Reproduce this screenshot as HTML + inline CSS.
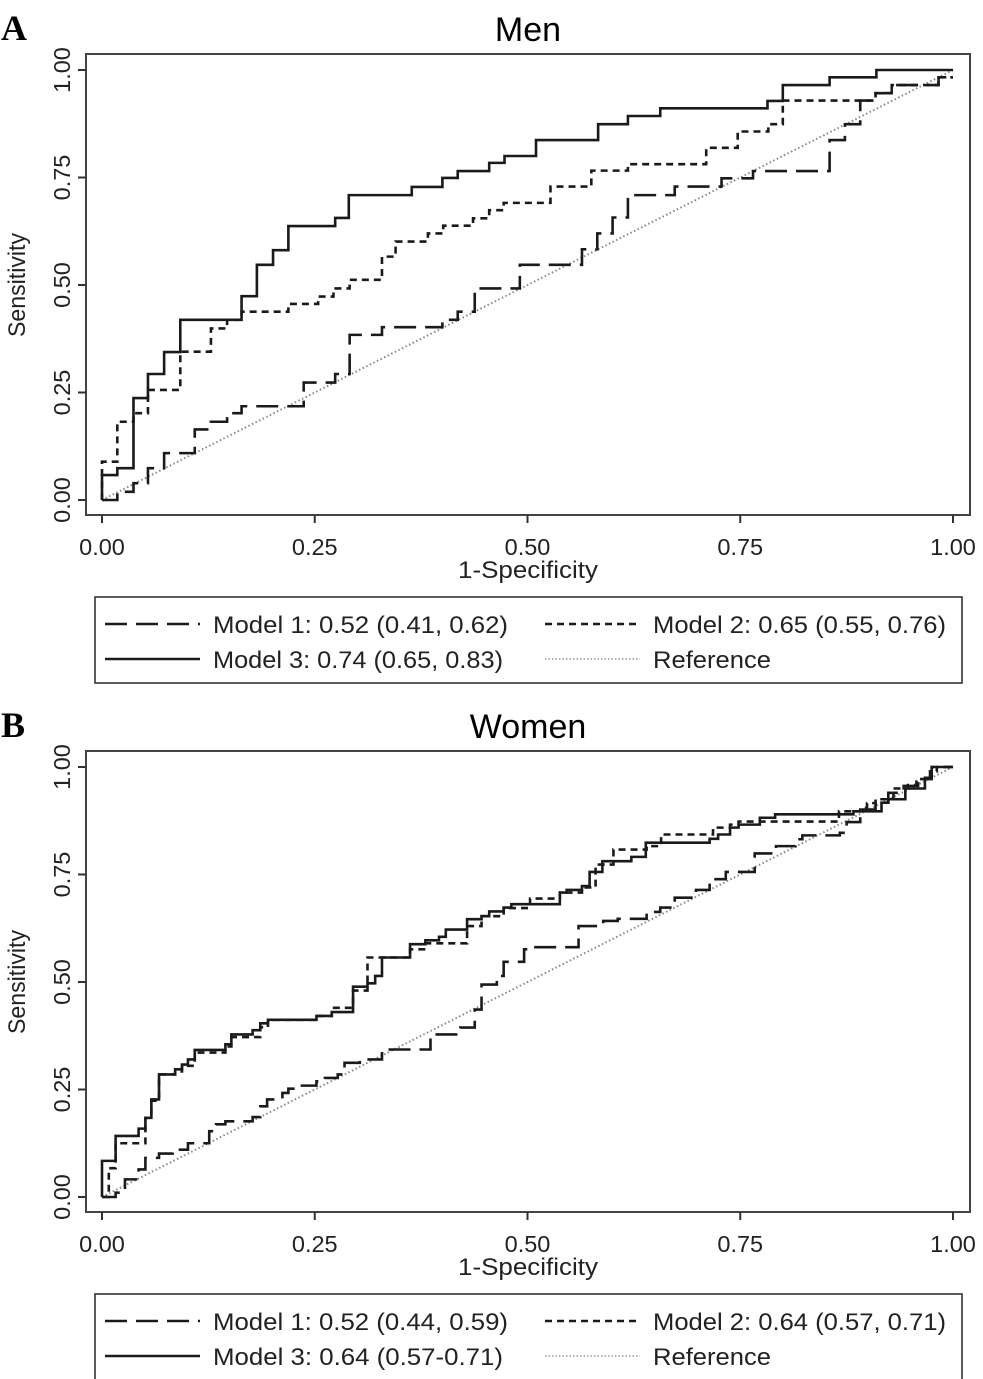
<!DOCTYPE html>
<html><head><meta charset="utf-8"><style>
body{margin:0;background:#fff;}
svg{display:block;font-family:"Liberation Sans",Arial,sans-serif;}
</style></head><body>
<svg id="fig" width="983" height="1379" viewBox="0 0 983 1379"></svg>
<script>
// ---- Data ----
const xTicks = [0, 0.25, 0.5, 0.75, 1];
const xTickLabels = ["0.00", "0.25", "0.50", "0.75", "1.00"];
const yTicks = [0, 0.25, 0.5, 0.75, 1];
const yTickLabels = ["0.00", "0.25", "0.50", "0.75", "1.00"];

// Men
const menM1x = [0,0.018,0.037,0.054,0.073,0.109,0.128,0.147,0.164,0.237,0.274,0.291,0.329,0.40,0.418,0.438,0.491,0.564,0.582,0.60,0.618,0.673,0.728,0.765,0.855,0.873,0.891,0.909,0.928,0.983];
const menM1y = [0,0.019,0.039,0.074,0.109,0.164,0.182,0.202,0.218,0.273,0.293,0.384,0.402,0.419,0.438,0.492,0.547,0.583,0.62,0.657,0.709,0.729,0.748,0.765,0.837,0.874,0.929,0.946,0.965,0.983];
const menM2x = [0,0.018,0.037,0.054,0.092,0.128,0.147,0.164,0.219,0.254,0.272,0.291,0.329,0.345,0.383,0.401,0.436,0.455,0.472,0.527,0.575,0.618,0.71,0.747,0.783,0.80,0.909,0.928,0.983];
const menM2y = [0.089,0.182,0.202,0.256,0.345,0.399,0.419,0.438,0.456,0.473,0.492,0.512,0.566,0.601,0.62,0.638,0.655,0.674,0.691,0.729,0.766,0.781,0.819,0.857,0.874,0.929,0.946,0.965,0.983];
const menM3x = [0,0.018,0.037,0.054,0.073,0.092,0.164,0.182,0.201,0.219,0.274,0.29,0.364,0.40,0.418,0.455,0.473,0.51,0.583,0.618,0.656,0.782,0.80,0.855,0.91];
const menM3y = [0.058,0.074,0.237,0.293,0.344,0.419,0.474,0.547,0.581,0.637,0.656,0.709,0.728,0.749,0.765,0.784,0.80,0.837,0.874,0.893,0.911,0.928,0.965,0.983,1.0];

// Women
const womM1x = [0.016,0.027,0.043,0.051,0.067,0.083,0.101,0.126,0.134,0.145,0.177,0.186,0.194,0.212,0.219,0.229,0.252,0.262,0.277,0.285,0.303,0.329,0.386,0.421,0.438,0.446,0.464,0.472,0.496,0.505,0.56,0.589,0.606,0.64,0.656,0.673,0.698,0.714,0.733,0.767,0.792,0.815,0.823,0.867,0.875,0.891,0.909,0.924,0.942,0.959,0.975];
const womM1y = [0.01,0.041,0.064,0.091,0.101,0.11,0.125,0.153,0.169,0.176,0.186,0.211,0.227,0.242,0.252,0.259,0.269,0.277,0.285,0.312,0.32,0.343,0.378,0.394,0.436,0.494,0.514,0.547,0.576,0.581,0.63,0.642,0.647,0.663,0.673,0.696,0.714,0.739,0.756,0.799,0.816,0.832,0.841,0.847,0.872,0.901,0.917,0.94,0.956,0.972,1.0];
const womM2x = [0.008,0.016,0.051,0.058,0.067,0.086,0.094,0.109,0.145,0.152,0.186,0.195,0.252,0.27,0.295,0.312,0.362,0.38,0.429,0.446,0.472,0.503,0.538,0.564,0.58,0.601,0.64,0.657,0.718,0.738,0.748,0.866,0.891,0.899,0.909,0.93,0.947,0.957,0.973,0.981];
const womM2y = [0.067,0.125,0.184,0.224,0.285,0.292,0.305,0.336,0.35,0.372,0.395,0.412,0.421,0.44,0.48,0.557,0.576,0.59,0.63,0.653,0.672,0.694,0.708,0.72,0.773,0.808,0.816,0.843,0.859,0.866,0.873,0.897,0.905,0.916,0.925,0.95,0.958,0.972,0.99,1.0];
const womM3x = [0,0.016,0.043,0.051,0.058,0.067,0.086,0.094,0.101,0.109,0.145,0.152,0.177,0.186,0.195,0.252,0.27,0.295,0.312,0.321,0.329,0.362,0.38,0.396,0.404,0.429,0.446,0.455,0.472,0.481,0.538,0.546,0.564,0.573,0.588,0.622,0.639,0.714,0.724,0.738,0.748,0.773,0.791,0.883,0.916,0.924,0.944,0.967,0.975];
const womM3y = [0.084,0.142,0.159,0.184,0.227,0.285,0.297,0.308,0.320,0.342,0.355,0.378,0.388,0.404,0.412,0.421,0.430,0.489,0.497,0.514,0.557,0.588,0.597,0.605,0.622,0.646,0.653,0.664,0.673,0.681,0.708,0.714,0.723,0.756,0.781,0.791,0.824,0.833,0.843,0.859,0.866,0.882,0.89,0.897,0.917,0.925,0.95,0.975,1.0];

const panels = [
  {id:"men", letter:"A", title:"Men", top:0, m1x:menM1x,m1y:menM1y,m2x:menM2x,m2y:menM2y,m3x:menM3x,m3y:menM3y,
   leg:["Model 1: 0.52 (0.41, 0.62)","Model 2: 0.65 (0.55, 0.76)","Model 3: 0.74 (0.65, 0.83)","Reference"]},
  {id:"women", letter:"B", title:"Women", top:697, m1x:womM1x,m1y:womM1y,m2x:womM2x,m2y:womM2y,m3x:womM3x,m3y:womM3y,
   leg:["Model 1: 0.52 (0.44, 0.59)","Model 2: 0.64 (0.57, 0.71)","Model 3: 0.64 (0.57-0.71)","Reference"]}
];
const legWidths=[295,293,290,118];

const NS="http://www.w3.org/2000/svg";
const svg=document.getElementById("fig");
function mk(tag,attrs,parent,text){
  const e=document.createElementNS(NS,tag);
  for(const k in attrs) e.setAttribute(k,attrs[k]);
  if(text!==undefined) e.textContent=text;
  (parent||svg).appendChild(e);
  return e;
}
const styles={
  m1:{"stroke-dasharray":"22,9"},
  m2:{"stroke-dasharray":"7,5"},
  m3:{},
};
panels.forEach(p=>{
  const T=p.top;
  const xS=v=>102+v*851;
  const yS=v=>T+500-v*430;
  const g=mk("g",{});
  
  
  let t=mk("text",{x:1,y:T+40,"font-family":"Liberation Serif,serif","font-weight":"bold","font-size":"36"},g,p.letter);
  
  
  t=mk("text",{x:528,y:T+41,"text-anchor":"middle","font-size":"34"},g,p.title);
  
  
  const box=mk("rect",{x:86,y:T+54,width:884,height:461,fill:"none",stroke:"#444","stroke-width":"2"},g);
  
  
  xTicks.forEach((v,i)=>{
    const l=mk("line",{x1:xS(v),x2:xS(v),y1:T+515,y2:T+523,stroke:"#333","stroke-width":"2"},g);
    
    
    const tx=mk("text",{x:xS(v),y:T+555,"text-anchor":"middle","font-size":"23.5",fill:"#222"},g,xTickLabels[i]);
    
    
  });
  yTicks.forEach((v,i)=>{
    const l=mk("line",{x1:78,x2:86,y1:yS(v),y2:yS(v),stroke:"#333","stroke-width":"2"},g);
    
    
    const tx=mk("text",{x:0,y:0,"text-anchor":"middle","font-size":"23.5",fill:"#222",transform:`translate(70,${yS(v)}) rotate(-90)`},g,yTickLabels[i]);
    
    
  });
  t=mk("text",{x:458,y:T+578,"font-size":"24",fill:"#222",textLength:"140",lengthAdjust:"spacingAndGlyphs"},g,"1-Specificity");
  
  
  t=mk("text",{x:0,y:0,"font-size":"24",fill:"#222",textLength:"104",lengthAdjust:"spacingAndGlyphs",transform:`translate(25,${T+337}) rotate(-90)`},g,"Sensitivity");
  
  
  const ref=mk("line",{x1:xS(0),y1:yS(0),x2:xS(1),y2:yS(1),stroke:"#888","stroke-width":"2","stroke-dasharray":"1.5,2.5"},g);
  
  
  [["m1",p.m1x,p.m1y],["m2",p.m2x,p.m2y],["m3",p.m3x,p.m3y]].forEach(([k,xs,ys])=>{
    let d=`M${xS(0)},${yS(0)}`;
    for(let i=0;i<xs.length;i++){ d+=` H${xS(xs[i])} V${yS(ys[i])}`; }
    d+=` H${xS(1)}`;
    const a=Object.assign({d:d,fill:"none",stroke:"#1a1a1a","stroke-width":"2.6"},styles[k]);
    const path=mk("path",a,g);
    
    
  });
  const lg=mk("g",{},g);
  
  
  mk("rect",{x:95,y:T+597,width:867,height:86,fill:"none",stroke:"#333","stroke-width":"1.6"},lg);
  const ent=[[105,T+624,"m1"],[545,T+624,"m2"],[105,T+659,"m3"],[545,T+659,"ref"]];
  ent.forEach(([x,y,k],i)=>{
    const a={x1:x,x2:x+95,y1:y,y2:y,stroke:k==="ref"?"#999":"#1a1a1a","stroke-width":k==="ref"?"1.5":"2.4"};
    if(k==="m1") a["stroke-dasharray"]="22,9";
    if(k==="m2") a["stroke-dasharray"]="7,5";
    if(k==="ref") a["stroke-dasharray"]="1.5,2";
    const ln=mk("line",a,lg);
    
    
    const tx=mk("text",{x:x+108,y:y+9,"font-size":"24",fill:"#222",textLength:String(legWidths[i]),lengthAdjust:"spacingAndGlyphs"},lg,p.leg[i]);
    
    
  });
});
</script>
</body></html>
